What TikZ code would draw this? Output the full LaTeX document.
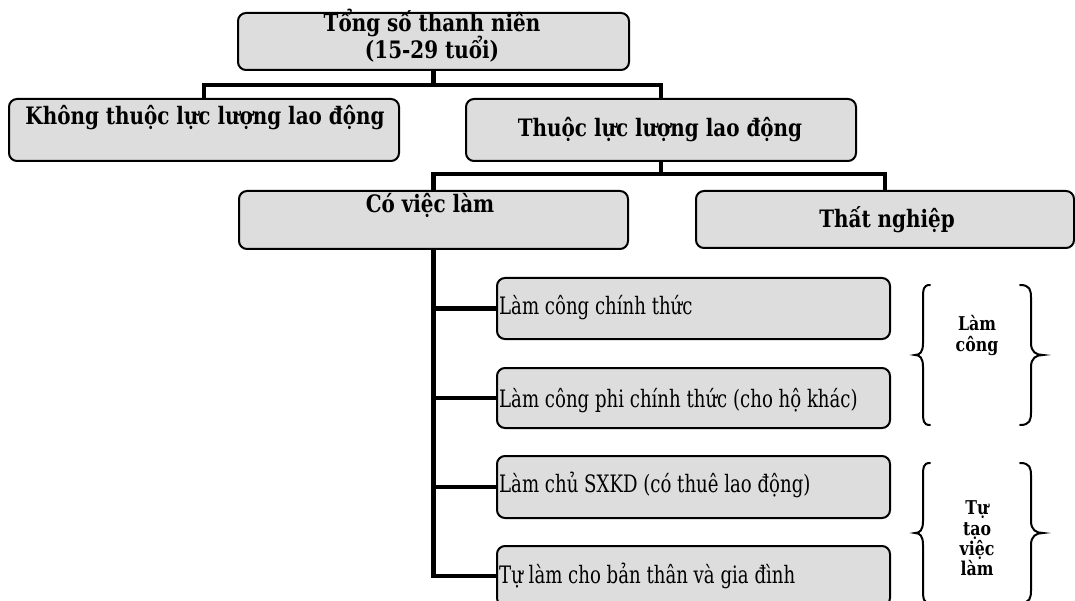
\documentclass[tikz,border=0pt]{standalone}
\usepackage{fontspec}
\setmainfont{DejaVu Serif}
\newfontfamily\bfnt[FakeStretch=0.83]{DejaVu Serif}
\newfontfamily\rfnt[FakeStretch=0.755]{DejaVu Serif}
\definecolor{boxgray}{RGB}{221,221,221}
\begin{document}
\begin{tikzpicture}[x=1pt,y=-1pt,
  box/.style={draw=black, line width=2pt, rounded corners=8pt, fill=boxgray,
    inner sep=0pt, anchor=north west},
  conn/.style={draw=black, line width=4.5pt},
  brace/.style={draw=black, line width=2pt, line cap=round},
  btxt/.style={font=\bfnt\bfseries\fontsize{24}{27}\selectfont, inner sep=0pt, anchor=base},
  rtxt/.style={font=\rfnt\fontsize{24}{26}\selectfont, inner sep=0pt, anchor=base west},
  stxt/.style={font=\bfnt\bfseries\fontsize{19}{20.5}\selectfont, inner sep=0pt, anchor=base, align=center}]
\useasboundingbox (0,0) rectangle (1075,601);
\clip (0,0) rectangle (1075,601);
% boxes
\node[box, minimum width=391pt, minimum height=57pt] (top) at (237,12) {};
\node[box, minimum width=390pt, minimum height=62pt] (khong) at (8,98) {};
\node[box, minimum width=390pt, minimum height=62pt] (thuoc) at (465,98) {};
\node[box, minimum width=389pt, minimum height=58pt] (coviec) at (238,190) {};
\node[box, minimum width=378pt, minimum height=57pt] (that) at (695,190) {};
\node[box, minimum width=393pt, minimum height=61pt] (s1) at (496,277) {};
\node[box, minimum width=393pt, minimum height=60pt] (s2) at (496,367) {};
\node[box, minimum width=393pt, minimum height=62pt] (s3) at (496,455) {};
\node[box, minimum width=393pt, minimum height=60pt] (s4) at (496,545) {};
% connectors
\draw[conn] (top.south) -- ++(0,14) coordinate (h1);
\draw[conn] (h1) -| (khong.north);
\draw[conn] (h1) -| (thuoc.north);
\draw[conn] (thuoc.south) -- ++(0,12) coordinate (h2);
\draw[conn] (h2) -| (coviec.north);
\draw[conn] (h2) -| (that.north);
\draw[conn] (coviec.south) |- (s1.west);
\draw[conn] (coviec.south) |- (s2.west);
\draw[conn] (coviec.south) |- (s3.west);
\draw[conn] (coviec.south) |- (s4.west);
% texts
\node[btxt] (ttop1) at (432,32) {Tổng số thanh niên};
\node[btxt] (ttop2) at (432,59) {(15-29 tuổi)};
\node[btxt] (tkhong) at (205,125) {Không thuộc lực lượng lao động};
\node[btxt] (tthuoc) at (660,137) {Thuộc lực lượng lao động};
\node[btxt] (tcoviec) at (430,213) {Có việc làm};
\node[btxt] (tthat) at (887,228) {Thất nghiệp};
\node[rtxt] (ts1) at (499,315) {Làm công chính thức};
\node[rtxt] (ts2) at (499,407) {Làm công phi chính thức (cho hộ khác)};
\node[rtxt] (ts3) at (499,492) {Làm chủ SXKD (có thuê lao động)};
\node[rtxt] (ts4) at (499,583) {Tự làm cho bản thân và gia đình};
\node[stxt] (lc1) at (977,330) {Làm};
\node[stxt] (lc2) at (977,351) {công};
\node[stxt] (tt1) at (977,514) {Tự};
\node[stxt] (tt2) at (977,535) {tạo};
\node[stxt] (tt3) at (977,555) {việc};
\node[stxt] (tt4) at (977,575) {làm};
% braces
\draw[brace] (930,285) .. controls (923,285) and (923,290) .. (923,298) -- (923,343)
  .. controls (923,352) and (920,355) .. (915,355) .. controls (920,355) and (923,358) .. (923,367)
  -- (923,412) .. controls (923,420) and (923,425) .. (930,425);
\draw[brace] (1020,285) .. controls (1030,285) and (1031,290) .. (1031,298) -- (1031,343)
  .. controls (1031,352) and (1036,355) .. (1043,355) .. controls (1036,355) and (1031,358) .. (1031,367)
  -- (1031,412) .. controls (1031,420) and (1030,425) .. (1020,425);
\draw[brace] (930,463) .. controls (923,463) and (923,468) .. (923,476) -- (923,521)
  .. controls (923,530) and (920,533) .. (915,533) .. controls (920,533) and (923,536) .. (923,545)
  -- (923,590) .. controls (923,598) and (923,603) .. (930,603);
\draw[brace] (1020,463) .. controls (1030,463) and (1031,468) .. (1031,476) -- (1031,521)
  .. controls (1031,530) and (1036,533) .. (1043,533) .. controls (1036,533) and (1031,536) .. (1031,545)
  -- (1031,590) .. controls (1031,598) and (1030,603) .. (1020,603);
\end{tikzpicture}
\end{document}
